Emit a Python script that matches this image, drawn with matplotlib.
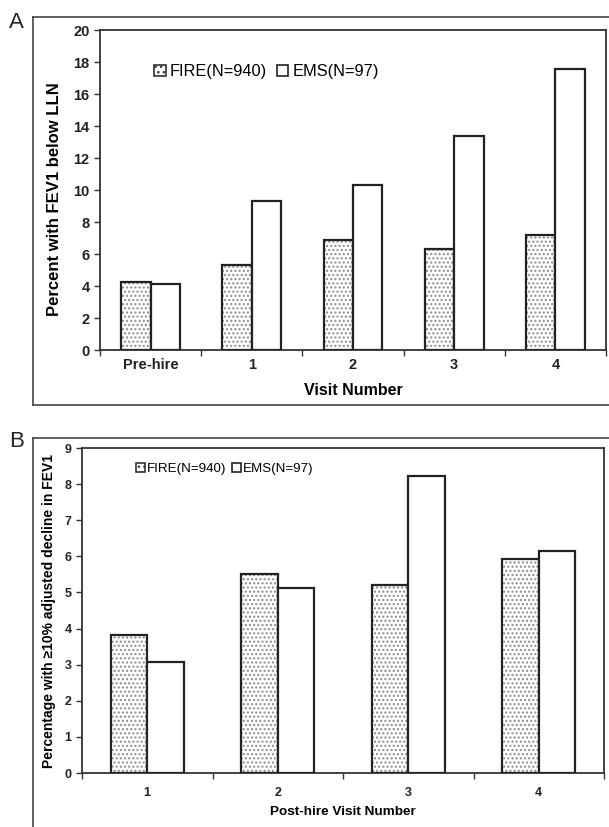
import matplotlib
matplotlib.use("Agg")
from matplotlib import pyplot as plt
from matplotlib import font_manager
from matplotlib.lines import Line2D
import numpy as np

# panel A: percent with FEV1 below LLN
visits_a = ["Pre-hire", "1", "2", "3", "4"]
fire_a = [4.25, 5.3, 6.9, 6.3, 7.2]
ems_a = [4.1, 9.3, 10.3, 13.4, 17.55]

# panel B: percent with >=10% adjusted decline in FEV1
visits_b = ["1", "2", "3", "4"]
fire_b = [3.82, 5.52, 5.22, 5.94]
ems_b = [3.07, 5.13, 8.22, 6.16]

labels = ["FIRE(N=940)", "EMS(N=97)"]

names = set(f.name for f in font_manager.fontManager.ttflist)
narrow = "Liberation Sans Narrow" if "Liberation Sans Narrow" in names else "Liberation Sans"
plt.rcParams["font.family"] = ["Liberation Sans", "DejaVu Sans"]
plt.rcParams["hatch.linewidth"] = 1.0

W, H = 609, 827
fig = plt.figure(figsize=(W / 100, H / 100), dpi=100)


def fx(px):
    return px / W


def fy(py):
    return 1 - py / H


def draw_bars(ax, cats, fire, ems, width):
    x = np.arange(len(cats))
    ax.bar(x - width / 2, fire, width, color="white", edgecolor="#8a8a8a",
           linewidth=0, hatch="....", zorder=2)
    ax.bar(x - width / 2, fire, width, fill=False, edgecolor="#222222",
           linewidth=1.6, zorder=3)
    ax.bar(x + width / 2, ems, width, color="white", edgecolor="#222222",
           linewidth=1.6, zorder=3)
    ax.set_xlim(-0.5, len(cats) - 0.5)
    ax.set_xticks(x)
    ax.set_xticklabels(cats)
    ax.set_xticks(np.arange(len(cats) + 1) - 0.5, minor=True)
    ax.tick_params(axis="x", which="major", length=0)
    ax.tick_params(axis="x", which="minor", length=4, width=1, color="#333333", direction="out")
    ax.tick_params(axis="y", length=4, width=1, color="#333333", direction="out")
    for s in ax.spines.values():
        s.set_color("#333333")
        s.set_linewidth(1.3)


def legend_handles():
    h1 = plt.Rectangle((0, 0), 1, 1, facecolor="white", edgecolor="#333333",
                       hatch="...", linewidth=1.2)
    h2 = plt.Rectangle((0, 0), 1, 1, facecolor="white", edgecolor="#222222",
                       linewidth=1.2)
    return [h1, h2]


# ---- panel A ----
axA = fig.add_axes([fx(100), fy(350), fx(606) - fx(100), fy(30) - fy(350)])
draw_bars(axA, visits_a, fire_a, ems_a, 0.29)
axA.set_ylim(0, 20)
axA.set_yticks(range(0, 21, 2))
for t in axA.get_xticklabels() + axA.get_yticklabels():
    t.set_fontweight("bold")
    t.set_fontsize(10.5)
    t.set_color("#222222")
axA.tick_params(axis="x", pad=6)
axA.set_xlabel("Visit Number", fontsize=11.5, fontweight="bold", labelpad=8)
axA.set_ylabel("Percent with FEV1 below LLN", fontsize=12, fontweight="bold")
axA.yaxis.set_label_coords(-0.076, 0.47)
axA.legend(legend_handles(), labels, loc="center left", bbox_to_anchor=(0.078, 0.87),
           ncol=2, frameon=False, handlelength=0.7, handleheight=0.7,
           handletextpad=0.25, columnspacing=0.6, fontsize=11.8)

# ---- panel B ----
axB = fig.add_axes([fx(82), fy(773), fx(604) - fx(82), fy(448) - fy(773)])
draw_bars(axB, visits_b, fire_b, ems_b, 0.28)
axB.set_ylim(0, 9)
axB.set_yticks(range(0, 10))
for t in axB.get_xticklabels() + axB.get_yticklabels():
    t.set_fontweight("bold")
    t.set_fontsize(9)
    t.set_family(narrow)
    t.set_color("#222222")
axB.tick_params(axis="x", pad=10)
axB.set_xlabel("Post-hire Visit Number", fontsize=9.7, fontweight="bold",
               family=narrow, labelpad=5)
axB.set_ylabel("Percentage with \u226510% adjusted decline in FEV1", fontsize=10,
               fontweight="bold", family=[narrow, "DejaVu Sans"], labelpad=6)
axB.legend(legend_handles(), labels, loc="center left", bbox_to_anchor=(0.08, 0.935),
           ncol=2, frameon=False, handlelength=0.7, handleheight=0.7,
           handletextpad=0.15, columnspacing=0.4, fontsize=9.6)

# outer panel frames
frame_kw = dict(color="#444444", linewidth=1.2, transform=fig.transFigure)
fig.add_artist(Line2D([fx(33), fx(33)], [fy(17), fy(405)], **frame_kw))
fig.add_artist(Line2D([fx(33), 1], [fy(17), fy(17)], **frame_kw))
fig.add_artist(Line2D([fx(33), 1], [fy(405), fy(405)], **frame_kw))
fig.add_artist(Line2D([fx(33), fx(33)], [fy(438), 0], **frame_kw))
fig.add_artist(Line2D([fx(33), 1], [fy(438), fy(438)], **frame_kw))

fig.text(fx(9), fy(22), "A", fontsize=16, va="center", ha="left", color="#222222")
fig.text(fx(9), fy(441), "B", fontsize=16, va="center", ha="left", color="#222222")

fig.savefig("out.png", dpi=100)
